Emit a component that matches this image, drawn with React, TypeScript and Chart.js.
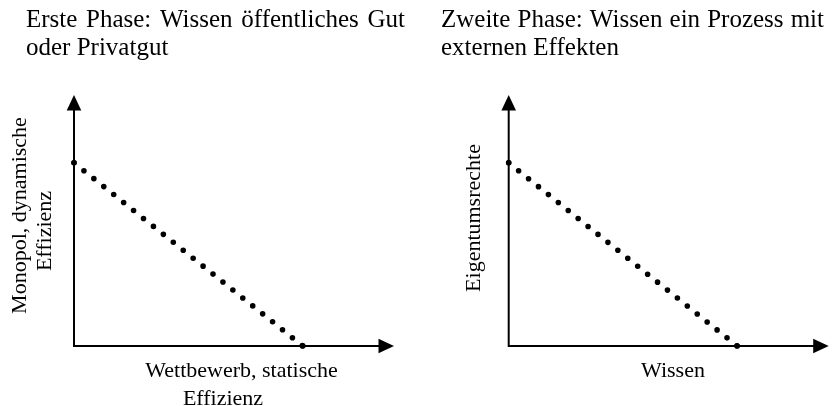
import React, { useEffect, useRef } from "react";
import { Chart, registerables } from "chart.js";

Chart.register(...registerables);

// ---- data ----
const AXIS_MAX = 10;
const PANEL_TITLES: string[][] = [
  ["Erste Phase: Wissen öffentliches Gut", "oder Privatgut"],
  ["Zweite Phase: Wissen ein Prozess mit", "externen Effekten"],
];
const X_AXIS_LABELS: string[][] = [["Wettbewerb, statische", "Effizienz"], ["Wissen"]];
const Y_AXIS_LABELS: string[][] = [["Monopol, dynamische", "Effizienz"], ["Eigentumsrechte"]];
const LINE_X: number[][] = [
  [0, 7.15],
  [0, 7.14],
];
const LINE_Y: number[][] = [
  [7.3, 0],
  [7.3, 0],
];

// ---- layout (page coordinates) ----
const FONT = '"Liberation Serif", "Times New Roman", serif';
const TITLE_SIZE = 25;
const LABEL_SIZE = 22;

type Layout = {
  left: number;
  width: number;
  padding: { left: number; right: number; top: number; bottom: number };
  titleX: number;
  titleRight: number;
  titleBaselines: number[];
  xLab: { cx: number; y: number }[];
  yLab: { cy: number; x: number }[];
};

const LAYOUTS: Layout[] = [
  {
    left: 0,
    width: 417,
    padding: { left: 74, right: 23, top: 95, bottom: 60 },
    titleX: 26,
    titleRight: 405,
    titleBaselines: [27, 55],
    xLab: [
      { cx: 241.5, y: 377 },
      { cx: 223, y: 405 },
    ],
    yLab: [
      { cy: 215.5, x: 26 },
      { cy: 231, x: 51 },
    ],
  },
  {
    left: 417,
    width: 417,
    padding: { left: 91.7, right: 5.3, top: 95, bottom: 60 },
    titleX: 441,
    titleRight: 824,
    titleBaselines: [27, 55],
    xLab: [{ cx: 673, y: 377 }],
    yLab: [{ cy: 218, x: 480 }],
  },
];

function makePlugin(i: number) {
  const L = LAYOUTS[i];
  return {
    id: "decor" + i,
    beforeDatasetsDraw(chart: any) {
      const ctx = chart.ctx as CanvasRenderingContext2D;
      const xs = chart.scales.x;
      const ys = chart.scales.y;
      const x0 = xs.getPixelForValue(0);
      const y0 = ys.getPixelForValue(0);
      const xTip = xs.getPixelForValue(AXIS_MAX);
      const yTip = ys.getPixelForValue(AXIS_MAX);
      const aLen = 15.5;
      const aHalf = 7.3;
      ctx.save();
      ctx.strokeStyle = "#000";
      ctx.fillStyle = "#000";
      ctx.lineWidth = 2;
      ctx.lineCap = "butt";
      ctx.beginPath();
      ctx.moveTo(x0, y0 + 1);
      ctx.lineTo(x0, yTip + aLen * 0.6);
      ctx.moveTo(x0 - 1, y0);
      ctx.lineTo(xTip - aLen * 0.6, y0);
      ctx.stroke();
      // arrowheads
      ctx.beginPath();
      ctx.moveTo(x0, yTip);
      ctx.lineTo(x0 - aHalf, yTip + aLen);
      ctx.lineTo(x0 + aHalf, yTip + aLen);
      ctx.closePath();
      ctx.fill();
      ctx.beginPath();
      ctx.moveTo(xTip, y0);
      ctx.lineTo(xTip - aLen, y0 - aHalf);
      ctx.lineTo(xTip - aLen, y0 + aHalf);
      ctx.closePath();
      ctx.fill();
      ctx.restore();
    },
    afterDraw(chart: any) {
      const ctx = chart.ctx as CanvasRenderingContext2D;
      ctx.save();
      ctx.translate(-L.left, 0);
      ctx.fillStyle = "#000";
      ctx.textBaseline = "alphabetic";
      // titles
      ctx.font = `${TITLE_SIZE}px ${FONT}`;
      const tl = PANEL_TITLES[i];
      tl.forEach((line, li) => {
        const y = L.titleBaselines[li];
        if (li === tl.length - 1) {
          ctx.textAlign = "left";
          ctx.fillText(line, L.titleX, y);
        } else {
          const words = line.split(" ");
          const widths = words.map((w) => ctx.measureText(w).width);
          const total = widths.reduce((a, b) => a + b, 0);
          const gap = (L.titleRight - L.titleX - total) / (words.length - 1);
          let x = L.titleX;
          ctx.textAlign = "left";
          words.forEach((w, wi) => {
            ctx.fillText(w, x, y);
            x += widths[wi] + gap;
          });
        }
      });
      // axis labels
      ctx.font = `${LABEL_SIZE}px ${FONT}`;
      ctx.textAlign = "center";
      X_AXIS_LABELS[i].forEach((line, li) => {
        const p = L.xLab[li];
        ctx.fillText(line, p.cx, p.y);
      });
      Y_AXIS_LABELS[i].forEach((line, li) => {
        const p = L.yLab[li];
        ctx.save();
        ctx.translate(p.x, p.cy);
        ctx.rotate(-Math.PI / 2);
        ctx.fillText(line, 0, 0);
        ctx.restore();
      });
      ctx.restore();
    },
  };
}

function Panel({ index }: { index: number }) {
  const ref = useRef<HTMLCanvasElement | null>(null);
  useEffect(() => {
    if (!ref.current) return;
    const L = LAYOUTS[index];
    const chart = new Chart(ref.current, {
      type: "line",
      data: {
        datasets: [
          {
            data: LINE_X[index].map((x, k) => ({ x, y: LINE_Y[index][k] })),
            borderColor: "#000",
            borderWidth: 5.6,
            borderDash: [0, 12.72],
            borderCapStyle: "round",
            pointRadius: 2.8,
            pointBorderWidth: 0,
            pointBackgroundColor: "#000",
            clip: false,
            tension: 0,
          } as any,
        ],
      },
      options: {
        responsive: false,
        animation: false,
        devicePixelRatio: 1,
        layout: { padding: L.padding },
        plugins: { legend: { display: false }, tooltip: { enabled: false }, title: { display: false } },
        events: [],
        scales: {
          x: { type: "linear", min: 0, max: AXIS_MAX, display: false },
          y: { type: "linear", min: 0, max: AXIS_MAX, display: false },
        },
      },
      plugins: [makePlugin(index)],
    });
    return () => chart.destroy();
  }, [index]);
  const L = LAYOUTS[index];
  return (
    <canvas
      ref={ref}
      width={L.width}
      height={406}
      style={{ position: "absolute", left: L.left, top: 0, width: L.width, height: 406 }}
    />
  );
}

export default function App() {
  return (
    <div style={{ position: "fixed", left: 0, top: 0, width: 834, height: 406, background: "#fff" }}>
      <Panel index={0} />
      <Panel index={1} />
    </div>
  );
}
